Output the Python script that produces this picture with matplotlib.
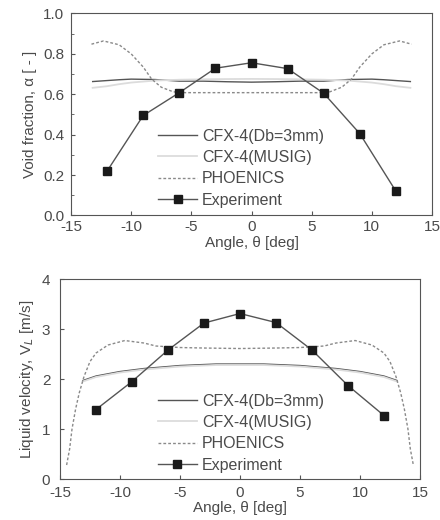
import matplotlib.pyplot as plt
import numpy as np

plt.rcParams["font.family"] = ["Liberation Sans", "DejaVu Sans"]
plt.rcParams["font.size"] = 11
plt.rcParams["axes.unicode_minus"] = False

# --- void fraction (top) ---
ang_cfx = [-13.2, -11, -10, -8, -6, -4, -2, 0, 2, 4, 6, 8, 10, 11, 13.2]
void_db3 = [0.663, 0.672, 0.675, 0.673, 0.665, 0.665, 0.662, 0.660, 0.662, 0.665, 0.665, 0.673, 0.675, 0.672, 0.663]
ang_musig = [-13.2, -12, -11, -10, -8, -6, -3, 0, 3, 6, 8, 10, 11, 12, 13.2]
void_musig = [0.632, 0.640, 0.650, 0.658, 0.668, 0.672, 0.675, 0.676, 0.675, 0.672, 0.668, 0.658, 0.650, 0.640, 0.632]
ang_phx = [-13.3, -12.3, -11, -10, -9, -8.3, -7.5, -6.5, -5.5, 0, 5.5, 6.5, 7.5, 8.3, 9, 10, 11, 12.3, 13.3]
void_phx = [0.848, 0.864, 0.845, 0.80, 0.735, 0.675, 0.635, 0.612, 0.608, 0.608, 0.608, 0.612, 0.635, 0.675, 0.735, 0.80, 0.845, 0.864, 0.848]
ang_exp = [-12, -9, -6, -3, 0, 3, 6, 9, 12]
void_exp = [0.22, 0.495, 0.608, 0.729, 0.756, 0.727, 0.605, 0.405, 0.12]

# --- liquid velocity (bottom) ---
vel_ang_cfx = [-13.1, -12, -10, -8, -5, -2, 0, 2, 5, 8, 10, 12, 13.1]
vel_db3 = [1.97, 2.06, 2.15, 2.21, 2.27, 2.3, 2.3, 2.3, 2.27, 2.21, 2.15, 2.06, 1.97]
vel_musig = [1.95, 2.04, 2.13, 2.19, 2.25, 2.28, 2.28, 2.28, 2.25, 2.19, 2.13, 2.04, 1.95]
vel_ang_phx = [-14.45, -14.2, -14, -13.7, -13.4, -13, -12.5, -12, -11, -9.6, -8, -7, -5, -3, 0,
               3, 5, 7, 8, 9.6, 11, 12, 12.5, 13, 13.4, 13.7, 14, 14.2, 14.45]
vel_phx = [0.28, 0.6, 1.0, 1.4, 1.72, 2.05, 2.35, 2.52, 2.68, 2.77, 2.72, 2.66, 2.63, 2.62, 2.61,
           2.62, 2.63, 2.66, 2.72, 2.77, 2.68, 2.52, 2.35, 2.05, 1.72, 1.4, 1.0, 0.6, 0.28]
vel_exp = [1.39, 1.95, 2.58, 3.12, 3.31, 3.13, 2.58, 1.87, 1.27]

labels = ["CFX-4(Db=3mm)", "CFX-4(MUSIG)", "PHOENICS", "Experiment"]
txt = "#4a4a4a"

fig = plt.figure(figsize=(4.4, 5.2), dpi=100)
ax1 = fig.add_axes([0.1614, 0.5856, 0.8205, 0.3885])
ax2 = fig.add_axes([0.1364, 0.0788, 0.818, 0.3846])


def draw(ax, xa, ya, xb, yb, xc, yc, ye, leg_xy):
    ax.plot(xa, ya, color="#555555", lw=1.0, label=labels[0])
    ax.plot(xb, yb, color="#dcdcdc", lw=1.3, label=labels[1])
    ax.plot(xc, yc, color="#8a8a8a", lw=1.0, ls=(0, (2, 1.5)), label=labels[2])
    ax.plot(ang_exp, ye, color="#555555", lw=1.0, marker="s", ms=5.5,
            mfc="#1a1a1a", mec="#1a1a1a", label=labels[3])
    ax.set_xlim(-15, 15)
    ax.set_xticks([-15, -10, -5, 0, 5, 10, 15])
    ax.set_xlabel("Angle, θ [deg]", color=txt, labelpad=1)
    ax.tick_params(direction="in", colors="#555555", labelcolor=txt, length=3)
    ax.tick_params(axis="y", pad=5)
    ax.tick_params(which="minor", direction="in", length=2, colors="#555555")
    for s in ax.spines.values():
        s.set_color("#555555")
    ax.legend(loc="upper left", bbox_to_anchor=leg_xy, frameon=False,
              borderpad=0, borderaxespad=0,
              handlelength=2.45, handletextpad=0.3, labelspacing=0.4,
              labelcolor=txt, fontsize=11.5)


draw(ax1, ang_cfx, void_db3, ang_musig, void_musig, ang_phx, void_phx, void_exp, (0.241, 0.43))
ax1.set_ylim(0, 1.0)
ax1.set_yticks(np.arange(0, 1.01, 0.2))
ax1.set_yticks(np.arange(0.1, 1.0, 0.2), minor=True)
ax1.set_ylabel("Void fraction, α [ - ]", color=txt)

draw(ax2, vel_ang_cfx, vel_db3, vel_ang_cfx, vel_musig, vel_ang_phx, vel_phx, vel_exp, (0.272, 0.427))
ax2.set_ylim(0, 4)
ax2.set_yticks([0, 1, 2, 3, 4])
ax2.tick_params(axis="x", pad=5)
ax2.tick_params(axis="y", pad=7)
ax2.set_ylabel("Liquid velocity, V$_L$ [m/s]", color=txt)

fig.savefig("out.png", dpi=100)
